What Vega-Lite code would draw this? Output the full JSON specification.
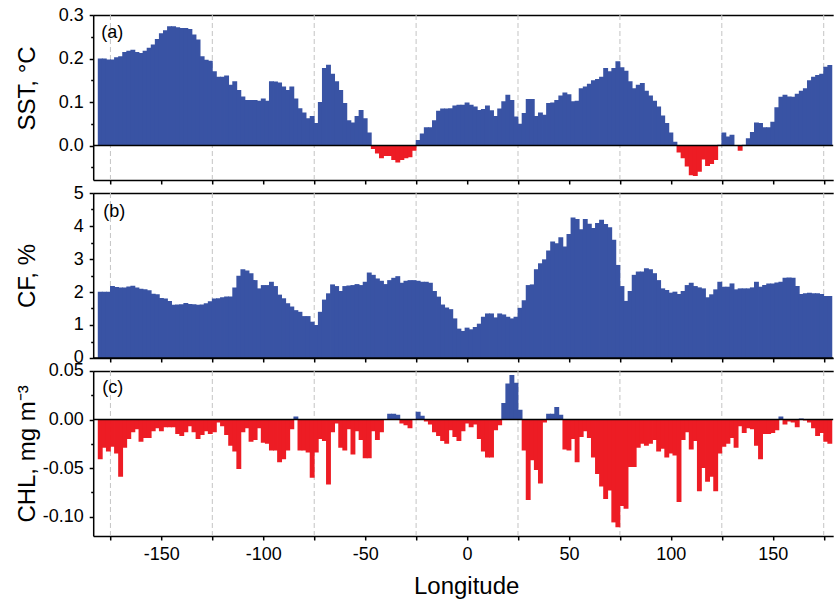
{
"$schema":"https://vega.github.io/schema/vega-lite/v6.json",
"padding":{"left":14.2,"top":6,"right":0,"bottom":0},
"background":"white",
"bounds":"flush",
"spacing":13,
"config":{"font":"Liberation Sans","view":{"stroke":null},
"axis":{"labelFont":"Liberation Sans","labelFontSize":18,"labelColor":"#000","titleFont":"Liberation Sans","titleFontSize":24,"titleFontWeight":"normal","titleColor":"#000","tickColor":"#000","domainColor":"#000","domainWidth":1.5,"tickWidth":1.5,"tickSize":4,"grid":false,"labelOverlap":false,"labelFlush":false,"zindex":1}},
"datasets":{"d":[
{"lon":-180,"sst":0.200,"cf":2.01,"chl":-0.041},
{"lon":-178,"sst":0.200,"cf":2.01,"chl":-0.029},
{"lon":-176,"sst":0.198,"cf":2.01,"chl":-0.033},
{"lon":-174,"sst":0.198,"cf":2.18,"chl":-0.028},
{"lon":-172,"sst":0.203,"cf":2.15,"chl":-0.035},
{"lon":-170,"sst":0.205,"cf":2.14,"chl":-0.059},
{"lon":-168,"sst":0.215,"cf":2.14,"chl":-0.029},
{"lon":-166,"sst":0.218,"cf":2.17,"chl":-0.020},
{"lon":-164,"sst":0.220,"cf":2.19,"chl":-0.013},
{"lon":-162,"sst":0.215,"cf":2.14,"chl":-0.010},
{"lon":-160,"sst":0.213,"cf":2.10,"chl":-0.023},
{"lon":-158,"sst":0.218,"cf":2.08,"chl":-0.019},
{"lon":-156,"sst":0.225,"cf":2.05,"chl":-0.019},
{"lon":-154,"sst":0.232,"cf":1.95,"chl":-0.012},
{"lon":-152,"sst":0.245,"cf":1.93,"chl":-0.009},
{"lon":-150,"sst":0.258,"cf":1.82,"chl":-0.012},
{"lon":-148,"sst":0.265,"cf":1.80,"chl":-0.008},
{"lon":-146,"sst":0.274,"cf":1.73,"chl":-0.008},
{"lon":-144,"sst":0.274,"cf":1.61,"chl":-0.008},
{"lon":-142,"sst":0.272,"cf":1.62,"chl":-0.015},
{"lon":-140,"sst":0.270,"cf":1.63,"chl":-0.017},
{"lon":-138,"sst":0.270,"cf":1.67,"chl":-0.013},
{"lon":-136,"sst":0.268,"cf":1.64,"chl":-0.007},
{"lon":-134,"sst":0.255,"cf":1.63,"chl":-0.013},
{"lon":-132,"sst":0.244,"cf":1.61,"chl":-0.020},
{"lon":-130,"sst":0.205,"cf":1.62,"chl":-0.016},
{"lon":-128,"sst":0.197,"cf":1.66,"chl":-0.012},
{"lon":-126,"sst":0.195,"cf":1.72,"chl":-0.015},
{"lon":-124,"sst":0.171,"cf":1.80,"chl":-0.013},
{"lon":-122,"sst":0.158,"cf":1.81,"chl":-0.003},
{"lon":-120,"sst":0.158,"cf":1.84,"chl":-0.007},
{"lon":-118,"sst":0.161,"cf":1.86,"chl":-0.016},
{"lon":-116,"sst":0.140,"cf":1.86,"chl":-0.027},
{"lon":-114,"sst":0.148,"cf":2.14,"chl":-0.033},
{"lon":-112,"sst":0.128,"cf":2.49,"chl":-0.051},
{"lon":-110,"sst":0.113,"cf":2.69,"chl":-0.013},
{"lon":-108,"sst":0.105,"cf":2.65,"chl":-0.009},
{"lon":-106,"sst":0.105,"cf":2.57,"chl":-0.023},
{"lon":-104,"sst":0.105,"cf":2.36,"chl":-0.021},
{"lon":-102,"sst":0.103,"cf":2.11,"chl":-0.009},
{"lon":-100,"sst":0.108,"cf":2.21,"chl":-0.024},
{"lon":-98,"sst":0.103,"cf":2.21,"chl":-0.025},
{"lon":-96,"sst":0.148,"cf":2.31,"chl":-0.032},
{"lon":-94,"sst":0.147,"cf":2.18,"chl":-0.032},
{"lon":-92,"sst":0.145,"cf":1.92,"chl":-0.044},
{"lon":-90,"sst":0.136,"cf":1.81,"chl":-0.041},
{"lon":-88,"sst":0.128,"cf":1.66,"chl":-0.032},
{"lon":-86,"sst":0.136,"cf":1.56,"chl":-0.010},
{"lon":-84,"sst":0.108,"cf":1.45,"chl":0.003},
{"lon":-82,"sst":0.086,"cf":1.40,"chl":-0.032},
{"lon":-80,"sst":0.076,"cf":1.27,"chl":-0.032},
{"lon":-78,"sst":0.063,"cf":1.27,"chl":-0.034},
{"lon":-76,"sst":0.068,"cf":1.10,"chl":-0.060},
{"lon":-74,"sst":0.052,"cf":1.00,"chl":-0.034},
{"lon":-72,"sst":0.100,"cf":1.40,"chl":-0.020},
{"lon":-70,"sst":0.178,"cf":1.77,"chl":-0.022},
{"lon":-68,"sst":0.186,"cf":1.96,"chl":-0.067},
{"lon":-66,"sst":0.165,"cf":2.23,"chl":-0.013},
{"lon":-64,"sst":0.148,"cf":2.18,"chl":-0.004},
{"lon":-62,"sst":0.128,"cf":2.03,"chl":-0.029},
{"lon":-60,"sst":0.098,"cf":2.18,"chl":-0.032},
{"lon":-58,"sst":0.058,"cf":2.20,"chl":-0.010},
{"lon":-56,"sst":0.053,"cf":2.21,"chl":-0.036},
{"lon":-54,"sst":0.068,"cf":2.24,"chl":-0.012},
{"lon":-52,"sst":0.082,"cf":2.21,"chl":-0.021},
{"lon":-50,"sst":0.063,"cf":2.31,"chl":-0.040},
{"lon":-48,"sst":0.030,"cf":2.59,"chl":-0.040},
{"lon":-46,"sst":-0.008,"cf":2.52,"chl":-0.012},
{"lon":-44,"sst":-0.018,"cf":2.41,"chl":-0.021},
{"lon":-42,"sst":-0.029,"cf":2.34,"chl":-0.013},
{"lon":-40,"sst":-0.024,"cf":2.24,"chl":0.000},
{"lon":-38,"sst":-0.024,"cf":2.36,"chl":0.006},
{"lon":-36,"sst":-0.033,"cf":2.43,"chl":0.006},
{"lon":-34,"sst":-0.039,"cf":2.48,"chl":0.005},
{"lon":-32,"sst":-0.033,"cf":2.28,"chl":-0.004},
{"lon":-30,"sst":-0.029,"cf":2.34,"chl":-0.006},
{"lon":-28,"sst":-0.027,"cf":2.36,"chl":-0.009},
{"lon":-26,"sst":-0.012,"cf":2.36,"chl":0.000},
{"lon":-24,"sst":0.013,"cf":2.34,"chl":0.008},
{"lon":-22,"sst":0.028,"cf":2.31,"chl":0.004},
{"lon":-20,"sst":0.042,"cf":2.31,"chl":-0.002},
{"lon":-18,"sst":0.042,"cf":2.28,"chl":-0.005},
{"lon":-16,"sst":0.058,"cf":2.03,"chl":-0.013},
{"lon":-14,"sst":0.080,"cf":1.86,"chl":-0.017},
{"lon":-12,"sst":0.085,"cf":1.62,"chl":-0.022},
{"lon":-10,"sst":0.085,"cf":1.53,"chl":-0.025},
{"lon":-8,"sst":0.086,"cf":1.48,"chl":-0.011},
{"lon":-6,"sst":0.092,"cf":1.20,"chl":-0.018},
{"lon":-4,"sst":0.094,"cf":0.89,"chl":-0.022},
{"lon":-2,"sst":0.094,"cf":0.82,"chl":-0.012},
{"lon":0,"sst":0.099,"cf":0.92,"chl":-0.004},
{"lon":2,"sst":0.094,"cf":0.87,"chl":-0.008},
{"lon":4,"sst":0.090,"cf":0.94,"chl":-0.005},
{"lon":6,"sst":0.082,"cf":1.04,"chl":-0.020},
{"lon":8,"sst":0.084,"cf":1.25,"chl":-0.033},
{"lon":10,"sst":0.092,"cf":1.35,"chl":-0.039},
{"lon":12,"sst":0.081,"cf":1.35,"chl":-0.039},
{"lon":14,"sst":0.068,"cf":1.23,"chl":-0.011},
{"lon":16,"sst":0.085,"cf":1.35,"chl":-0.006},
{"lon":18,"sst":0.102,"cf":1.32,"chl":0.017},
{"lon":20,"sst":0.117,"cf":1.25,"chl":0.037},
{"lon":22,"sst":0.105,"cf":1.20,"chl":0.046},
{"lon":24,"sst":0.067,"cf":1.25,"chl":0.038},
{"lon":26,"sst":0.050,"cf":1.52,"chl":0.010},
{"lon":28,"sst":0.075,"cf":1.75,"chl":-0.032},
{"lon":30,"sst":0.107,"cf":2.21,"chl":-0.083},
{"lon":32,"sst":0.107,"cf":2.23,"chl":-0.042},
{"lon":34,"sst":0.068,"cf":2.69,"chl":-0.052},
{"lon":36,"sst":0.076,"cf":2.87,"chl":-0.066},
{"lon":38,"sst":0.071,"cf":2.99,"chl":-0.003},
{"lon":40,"sst":0.098,"cf":3.26,"chl":0.006},
{"lon":42,"sst":0.099,"cf":3.53,"chl":0.006},
{"lon":44,"sst":0.105,"cf":3.48,"chl":0.013},
{"lon":46,"sst":0.115,"cf":3.66,"chl":0.005},
{"lon":48,"sst":0.122,"cf":3.38,"chl":-0.031},
{"lon":50,"sst":0.118,"cf":3.76,"chl":-0.032},
{"lon":52,"sst":0.102,"cf":4.26,"chl":-0.020},
{"lon":54,"sst":0.103,"cf":4.21,"chl":-0.044},
{"lon":56,"sst":0.132,"cf":3.90,"chl":-0.018},
{"lon":58,"sst":0.136,"cf":4.21,"chl":-0.012},
{"lon":60,"sst":0.142,"cf":4.07,"chl":-0.019},
{"lon":62,"sst":0.150,"cf":3.94,"chl":-0.039},
{"lon":64,"sst":0.153,"cf":4.09,"chl":-0.056},
{"lon":66,"sst":0.158,"cf":4.19,"chl":-0.069},
{"lon":68,"sst":0.178,"cf":4.06,"chl":-0.082},
{"lon":70,"sst":0.171,"cf":3.96,"chl":-0.073},
{"lon":72,"sst":0.178,"cf":3.58,"chl":-0.106},
{"lon":74,"sst":0.194,"cf":2.82,"chl":-0.111},
{"lon":76,"sst":0.180,"cf":2.18,"chl":-0.089},
{"lon":78,"sst":0.172,"cf":1.73,"chl":-0.092},
{"lon":80,"sst":0.148,"cf":2.03,"chl":-0.049},
{"lon":82,"sst":0.132,"cf":2.52,"chl":-0.049},
{"lon":84,"sst":0.140,"cf":2.62,"chl":-0.029},
{"lon":86,"sst":0.144,"cf":2.62,"chl":-0.025},
{"lon":88,"sst":0.126,"cf":2.72,"chl":-0.027},
{"lon":90,"sst":0.115,"cf":2.69,"chl":-0.025},
{"lon":92,"sst":0.103,"cf":2.57,"chl":-0.021},
{"lon":94,"sst":0.090,"cf":2.36,"chl":-0.033},
{"lon":96,"sst":0.069,"cf":2.11,"chl":-0.030},
{"lon":98,"sst":0.052,"cf":2.06,"chl":-0.039},
{"lon":100,"sst":0.030,"cf":1.98,"chl":-0.035},
{"lon":102,"sst":0.009,"cf":2.01,"chl":-0.037},
{"lon":104,"sst":-0.016,"cf":1.94,"chl":-0.085},
{"lon":106,"sst":-0.029,"cf":2.03,"chl":-0.021},
{"lon":108,"sst":-0.048,"cf":2.21,"chl":-0.013},
{"lon":110,"sst":-0.068,"cf":2.28,"chl":-0.031},
{"lon":112,"sst":-0.070,"cf":2.18,"chl":-0.022},
{"lon":114,"sst":-0.060,"cf":2.14,"chl":-0.074},
{"lon":116,"sst":-0.032,"cf":2.11,"chl":-0.050},
{"lon":118,"sst":-0.047,"cf":1.84,"chl":-0.064},
{"lon":120,"sst":-0.042,"cf":1.93,"chl":-0.059},
{"lon":122,"sst":-0.033,"cf":2.08,"chl":-0.074},
{"lon":124,"sst":0.002,"cf":2.31,"chl":-0.035},
{"lon":126,"sst":0.030,"cf":2.16,"chl":-0.028},
{"lon":128,"sst":0.021,"cf":2.16,"chl":-0.025},
{"lon":130,"sst":0.025,"cf":2.26,"chl":-0.019},
{"lon":132,"sst":0.001,"cf":2.08,"chl":-0.029},
{"lon":134,"sst":-0.012,"cf":2.11,"chl":-0.007},
{"lon":136,"sst":0.002,"cf":2.11,"chl":-0.014},
{"lon":138,"sst":0.017,"cf":2.11,"chl":-0.009},
{"lon":140,"sst":0.031,"cf":2.14,"chl":-0.010},
{"lon":142,"sst":0.053,"cf":2.31,"chl":-0.027},
{"lon":144,"sst":0.052,"cf":2.16,"chl":-0.041},
{"lon":146,"sst":0.042,"cf":2.21,"chl":-0.015},
{"lon":148,"sst":0.042,"cf":2.26,"chl":-0.015},
{"lon":150,"sst":0.055,"cf":2.26,"chl":-0.014},
{"lon":152,"sst":0.088,"cf":2.29,"chl":-0.011},
{"lon":154,"sst":0.112,"cf":2.31,"chl":0.003},
{"lon":156,"sst":0.117,"cf":2.43,"chl":-0.005},
{"lon":158,"sst":0.113,"cf":2.44,"chl":-0.002},
{"lon":160,"sst":0.112,"cf":2.43,"chl":-0.003},
{"lon":162,"sst":0.119,"cf":2.18,"chl":-0.008},
{"lon":164,"sst":0.126,"cf":1.94,"chl":0.001},
{"lon":166,"sst":0.132,"cf":1.96,"chl":-0.001},
{"lon":168,"sst":0.150,"cf":1.98,"chl":-0.003},
{"lon":170,"sst":0.158,"cf":1.96,"chl":-0.009},
{"lon":172,"sst":0.162,"cf":1.96,"chl":-0.017},
{"lon":174,"sst":0.165,"cf":1.94,"chl":-0.014},
{"lon":176,"sst":0.181,"cf":1.88,"chl":-0.023},
{"lon":178,"sst":0.185,"cf":1.88,"chl":-0.025}
],
"grid":[{"g":-175},{"g":-125},{"g":-75},{"g":-25},{"g":25},{"g":75},{"g":125},{"g":175}]},
"vconcat":[
{"width":740,"height":165,"data":{"name":"d"},
"layer":[
{"data":{"name":"grid"},"mark":{"type":"rule","stroke":"#c4c4c4","strokeWidth":1,"strokeDash":[5,3]},
"encoding":{"x":{"field":"g","type":"quantitative","scale":{"domain":[-181,177.2],"nice":false,"zero":false},"axis":{"orient":"top","ticks":false,"labels":false,"title":null}}}},
{"mark":{"type":"bar","width":4.9,"clip":true},
"encoding":{"x":{"field":"lon","type":"quantitative","scale":{"domain":[-181,177.2],"nice":false,"zero":false},"axis":{"orient":"bottom","values":[-175,-150,-125,-100,-75,-50,-25,0,25,50,75,100,125,150,175],"labels":false,"title":null}},
"y":{"field":"sst","type":"quantitative","scale":{"domain":[-0.079,0.3],"nice":false,"zero":false},"axis":{"orient":"left","values":[0,0.1,0.2,0.3],"format":".1f","labelPadding":6,"title":"SST, °C","titleX":-66,"titleY":73,"titleAngle":-90,"titleBaseline":"middle","titleAlign":"center"}},
"y2":{"datum":0},
"color":{"condition":{"test":"datum.sst < 0","value":"#ed1c24"},"value":"#3953a4"}}},
{"data":{"values":[{}]},"mark":{"type":"rule","stroke":"#000","strokeWidth":1.5},
"encoding":{"y":{"datum":0,"type":"quantitative","scale":{"domain":[-0.079,0.3],"nice":false,"zero":false},"axis":{"orient":"left","values":[-0.05,0.05,0.15,0.25],"labels":false,"domain":false,"tickSize":2.5,"title":null}}}},
{"data":{"values":[{}]},"mark":{"type":"text","align":"left","baseline":"middle","fontSize":18,"font":"Liberation Sans","color":"#000"},
"encoding":{"x":{"datum":-179.5,"type":"quantitative","scale":{"domain":[-181,177.2],"nice":false,"zero":false},"axis":null},"y":{"datum":0.259,"type":"quantitative","scale":{"domain":[-0.079,0.3],"nice":false,"zero":false},"axis":null},"text":{"value":"(a)"}}}
],
"resolve":{"axis":{"x":"independent","y":"independent"}}},
{"width":740,"height":165,"data":{"name":"d"},
"layer":[
{"data":{"name":"grid"},"mark":{"type":"rule","stroke":"#c4c4c4","strokeWidth":1,"strokeDash":[5,3]},
"encoding":{"x":{"field":"g","type":"quantitative","scale":{"domain":[-181,177.2],"nice":false,"zero":false},"axis":{"orient":"top","ticks":false,"labels":false,"title":null}}}},
{"mark":{"type":"bar","width":4.9,"clip":true,"color":"#3953a4"},
"encoding":{"x":{"field":"lon","type":"quantitative","scale":{"domain":[-181,177.2],"nice":false,"zero":false},"axis":{"orient":"bottom","values":[-175,-150,-125,-100,-75,-50,-25,0,25,50,75,100,125,150,175],"labels":false,"title":null}},
"y":{"field":"cf","type":"quantitative","scale":{"domain":[0,5],"nice":false,"zero":false},"axis":{"orient":"left","values":[0,1,2,3,4,5],"format":"d","labelPadding":6,"title":"CF, %","titleX":-66,"titleY":82.5,"titleAngle":-90,"titleBaseline":"middle","titleAlign":"center"}},
"y2":{"datum":0}}},
{"data":{"values":[{}]},"mark":{"type":"rule","stroke":"#000","strokeWidth":1.5},
"encoding":{"y":{"datum":0,"type":"quantitative","scale":{"domain":[0,5],"nice":false,"zero":false},"axis":{"orient":"left","values":[0.5,1.5,2.5,3.5,4.5],"labels":false,"domain":false,"tickSize":2.5,"title":null}}}},
{"data":{"values":[{}]},"mark":{"type":"text","align":"left","baseline":"middle","fontSize":18,"font":"Liberation Sans","color":"#000"},
"encoding":{"x":{"datum":-178.5,"type":"quantitative","scale":{"domain":[-181,177.2],"nice":false,"zero":false},"axis":null},"y":{"datum":4.43,"type":"quantitative","scale":{"domain":[0,5],"nice":false,"zero":false},"axis":null},"text":{"value":"(b)"}}}
],
"resolve":{"axis":{"x":"independent","y":"independent"}}},
{"width":740,"height":165,"data":{"name":"d"},
"layer":[
{"data":{"name":"grid"},"mark":{"type":"rule","stroke":"#c4c4c4","strokeWidth":1,"strokeDash":[5,3]},
"encoding":{"x":{"field":"g","type":"quantitative","scale":{"domain":[-181,177.2],"nice":false,"zero":false},"axis":{"orient":"top","ticks":false,"labels":false,"title":null}}}},
{"mark":{"type":"bar","width":4.9,"clip":true},
"encoding":{"x":{"field":"lon","type":"quantitative","scale":{"domain":[-181,177.2],"nice":false,"zero":false},"axis":{"orient":"bottom","values":[-175,-150,-125,-100,-75,-50,-25,0,25,50,75,100,125,150,175],"labels":true,"labelExpr":"datum.value % 50 === 0 ? toString(datum.value) : ''","labelPadding":6,"title":"Longitude","titleX":373,"titleY":58,"titleBaseline":"alphabetic","titleAlign":"center"}},
"y":{"field":"chl","type":"quantitative","scale":{"domain":[-0.12,0.05],"nice":false,"zero":false},"axis":{"orient":"left","values":[-0.1,-0.05,0,0.05],"labelExpr":"(datum.value < 0 ? '-' : '') + format(abs(datum.value), '.2f')","labelPadding":6,"title":"CHL, mg m⁻³","titleX":-66,"titleY":82.5,"titleAngle":-90,"titleBaseline":"middle","titleAlign":"center"}},
"y2":{"datum":0},
"color":{"condition":{"test":"datum.chl < 0","value":"#ed1c24"},"value":"#3953a4"}}},
{"data":{"values":[{}]},"mark":{"type":"rule","stroke":"#000","strokeWidth":1.5},
"encoding":{"y":{"datum":0,"type":"quantitative","scale":{"domain":[-0.12,0.05],"nice":false,"zero":false},"axis":{"orient":"left","values":[-0.075,-0.025,0.025],"labels":false,"domain":false,"tickSize":2.5,"title":null}}}},
{"data":{"values":[{}]},"mark":{"type":"text","align":"left","baseline":"middle","fontSize":18,"font":"Liberation Sans","color":"#000"},
"encoding":{"x":{"datum":-179,"type":"quantitative","scale":{"domain":[-181,177.2],"nice":false,"zero":false},"axis":null},"y":{"datum":0.032,"type":"quantitative","scale":{"domain":[-0.12,0.05],"nice":false,"zero":false},"axis":null},"text":{"value":"(c)"}}}
],
"resolve":{"axis":{"x":"independent","y":"independent"}}}
]
}
